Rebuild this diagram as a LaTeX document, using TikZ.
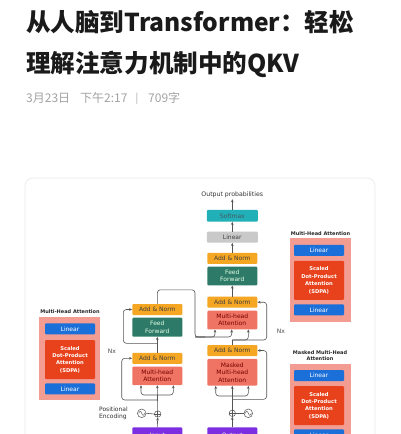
\documentclass[tikz,border=0pt]{standalone}
\usepackage{fontspec}
\setmainfont{DejaVu Sans}
\newfontfamily\cjk{Noto Sans CJK SC}
\usepackage{tikz}
\usetikzlibrary{arrows.meta, positioning, shapes.geometric}
\pgfdeclarelayer{background}
\pgfsetlayers{background,main}

\definecolor{titleblack}{HTML}{1A1A1A}
\definecolor{dategrey}{HTML}{A3A3A3}
\definecolor{cardline}{HTML}{E9E9E9}
\definecolor{addnorm}{HTML}{F5A623}
\definecolor{ffgreen}{HTML}{2D7A68}
\definecolor{mhared}{HTML}{F07463}
\definecolor{smteal}{HTML}{22B0B8}
\definecolor{lingrey}{HTML}{C9C9C9}
\definecolor{iopurple}{HTML}{7B2FE0}
\definecolor{panelpink}{HTML}{F39C92}
\definecolor{funnelpink}{HTML}{FAD3CC}
\definecolor{linblue}{HTML}{1B6FD8}
\definecolor{sdpared}{HTML}{E8421C}
\definecolor{wire}{HTML}{555555}
\definecolor{boxline}{HTML}{BDBDBD}

\begin{document}
\begin{tikzpicture}[x=1pt, y=-1pt,
    blk/.style={rectangle, rounded corners=1pt, inner sep=0pt, minimum width=50pt,
                align=center, font=\fontsize{6}{7.5}\selectfont},
    addn/.style={blk, fill=addnorm, minimum height=11pt, text=black!75},
    ffwd/.style={blk, fill=ffgreen, minimum height=19pt, text=green!10!white},
    mha/.style={blk, fill=mhared, text={red!45!black}},
    io/.style={blk, fill=iopurple, minimum height=18pt, text=white},
    panel/.style={rectangle, fill=panelpink, minimum width=61pt, minimum height=83.4pt, inner sep=0pt},
    plin/.style={blk, fill=linblue, minimum height=11pt, text=white},
    sdpa/.style={blk, fill=sdpared, minimum height=39pt, text=white,
                 font=\bfseries\fontsize{5.2}{7.4}\selectfont},
    ptitle/.style={font=\bfseries\fontsize{5}{6}\selectfont, text=black!85, align=center, inner sep=0pt},
    heading/.style={anchor=base west, inner sep=0pt, text=titleblack,
                    font=\cjk\bfseries\fontsize{24.6}{26}\selectfont},
    meta/.style={anchor=base west, inner sep=0pt, text=dategrey, font=\cjk\fontsize{12}{12}\selectfont},
    stack/.style={draw=boxline, line width=0.5pt},
    knot/.style={circle, draw=wire, line width=0.5pt, inner sep=0pt, fill=white},
    arr/.style={-{Stealth[length=3pt,width=2.6pt]}, wire, line width=0.6pt},
    wr/.style={wire, line width=0.6pt},
    rc/.style={rounded corners=3pt},
]
\useasboundingbox (0,0) rectangle (400,434);
\clip (0,0) rectangle (400,434);
\fill[white] (0,0) rectangle (400,434);

% heading
\node[heading] (title1) at (26,31.4) {从人脑到Transformer：轻松};
\node[heading] (title2) at (26,72.8) {理解注意力机制中的QKV};
\node[meta] (date) at (26,102) {3月23日};
\node[meta] (time) at (80,102) {下午2:17};
\node[meta, text=cardline!70!black, font=\cjk\fontsize{10}{12}\selectfont] (sep) at (135.5,101) {|};
\node[meta] (count) at (148,102) {709字};

% card
\draw[cardline, line width=0.7pt, rounded corners=8pt] (25,178) rectangle (375,480);

% encoder stack
\node[addn] (encAN2) at (157.3,309.5) {Add \& Norm};
\node[ffwd] (encFF) at (157.3,327.2) {Feed\\Forward};
\node[addn] (encAN1) at (157.3,358.3) {Add \& Norm};
\node[mha, minimum height=18.5pt] (encMHA) at (157.3,375.8) {Multi-head\\Attention};
\node[io] (input) at (157.3,436.3) {Input};

% decoder stack
\node[blk, fill=smteal, minimum height=11.7pt, minimum width=51pt, text={cyan!30!black}] (softmax) at (232.3,215.8) {Softmax};
\node[blk, fill=lingrey, minimum height=11pt, minimum width=51pt, text=black!75] (linear) at (232.3,237.2) {Linear};
\node[addn] (decAN3) at (232.3,258.3) {Add \& Norm};
\node[ffwd, minimum height=18.6pt] (decFF) at (232.3,276) {Feed\\Forward};
\node[addn] (decAN2) at (232.3,302.2) {Add \& Norm};
\node[mha, minimum height=18.6pt] (decMHA) at (232.3,320) {Multi-head\\Attention};
\node[addn] (decAN1) at (232.3,350.5) {Add \& Norm};
\node[mha, minimum height=26.7pt] (decMMHA) at (232.3,372.3) {Masked\\Multi-head\\Attention};
\node[io] (output) at (232.3,436.3) {Output};
\node[font=\fontsize{6.2}{7}\selectfont, text=black!80, inner sep=1pt] (outprob) at (232.3,195) {Output probabilities};

% attention panels
\node[panel] (lPanel) at (69.65,358.7) {};
\node[panel] (rtPanel) at (320,280) {};
\node[panel] (rbPanel) at (320,405.7) {};

\begin{pgfonlayer}{background}
  \fill[funnelpink, opacity=0.85] (lPanel.north east) -- (encMHA.north west) -- (encMHA.south west) -- (lPanel.south east) -- cycle;
  \fill[funnelpink, opacity=0.85] (rtPanel.north west) -- (decMHA.north east) -- (decMHA.south east) -- (rtPanel.south west) -- cycle;
  \fill[funnelpink, opacity=0.85] (rbPanel.north west) -- (decMMHA.north east) -- (decMMHA.south east) -- (rbPanel.south west) -- cycle;
  % stack frames
  \draw[stack] (119.3,296.7) rectangle (190,402.7);
  \draw[stack] (201,249.3) rectangle (273.7,402.7);
\end{pgfonlayer}
\node[font=\fontsize{6}{7}\selectfont, text=black!70] (encN) at (112,351) {Nx};
\node[font=\fontsize{6}{7}\selectfont, text=black!70] (decN) at (281,331) {Nx};

% panel contents
\node[ptitle] (lTitle) at (70,311.7) {Multi-Head Attention};
\node[plin] (lLin1) at (70,328.8) {Linear};
\node[sdpa] (lSdpa) at (70,359.5) {Scaled\\Dot-Product\\Attention\\(SDPA)};
\node[plin] (lLin2) at (70,388.8) {Linear};

\node[ptitle] (rtTitle) at (320.5,233.3) {Multi-Head Attention};
\node[plin] (rtLin1) at (319,250.3) {Linear};
\node[sdpa] (rtSdpa) at (319,280.3) {Scaled\\Dot-Product\\Attention\\(SDPA)};
\node[plin] (rtLin2) at (319,309.8) {Linear};

\node[ptitle] (rbTitle) at (320,355.3) {Masked Multi-Head\\Attention};
\node[plin] (rbLin1) at (319,375.5) {Linear};
\node[sdpa] (rbSdpa) at (319,405.5) {Scaled\\Dot-Product\\Attention\\(SDPA)};
\node[plin] (rbLin2) at (319,434.8) {Linear};

% positional encoding
\node[knot, minimum size=6.4pt] (encPlus) at (157.7,414) {};
\node[knot, minimum size=8.6pt] (encSin) at (141.7,413.3) {};
\node[knot, minimum size=6.4pt] (decPlus) at (232.3,413.3) {};
\node[knot, minimum size=8.6pt] (decSin) at (248.3,413.3) {};
\foreach \k in {encPlus, decPlus} {
  \draw[wr, line width=0.45pt] (\k.north) -- (\k.south) (\k.west) -- (\k.east);
}
\foreach \k in {encSin, decSin} {
  \draw[wr, line width=0.45pt] ([xshift=-3pt]\k.center) sin ++(1.5,-2) cos ++(1.5,2) sin ++(1.5,2) cos ++(1.5,-2);
}
\node[anchor=east, align=left, inner sep=0pt, font=\fontsize{6}{7}\selectfont, text=black!80]
    (posenc) at (128,413.5) {Positional\\Encoding};

% encoder wiring
\coordinate (encSplit) at (157.7,395);
\coordinate (encRes1) at (157.7,400);
\coordinate (encRes2) at (157.3,343.3);
\coordinate (encBend) at (195,337);
\draw[arr] (input.north) -- (encPlus.south);
\draw[wr] (encSin.east) -- (encPlus.west);
\draw[arr] (encPlus.north) -- (encMHA.south);
\draw[arr, rc] (encSplit) -| ([xshift=-16.3pt]encMHA.south);
\draw[arr, rc] (encSplit) -| ([xshift=16pt]encMHA.south);
\draw[arr, rc] (encRes1) -- ++(-36,0) |- (encAN1.west);
\draw[arr] (encAN1.north) -- (encFF.south);
\draw[arr, rc] (encRes2) -- ++(-34,0) |- (encAN2.west);
\draw[wr, rc] (encAN2.north) -- ++(0,-14) -| (encBend) -- ++(10,0);
\draw[arr, rc] (encBend) -| ([xshift=-17.3pt]decMHA.south);
\draw[arr, rc] (encBend) -| ([xshift=-0.6pt]decMHA.south);

% decoder wiring
\coordinate (decSplit) at (232.3,396);
\coordinate (decRes1) at (232.3,399.3);
\coordinate (decQ) at (232.3,340);
\draw[arr] (output.north) -- (decPlus.south);
\draw[wr] (decSin.west) -- (decPlus.east);
\draw[arr] (decPlus.north) -- (decMMHA.south);
\draw[arr, rc] (decSplit) -| ([xshift=-16.6pt]decMMHA.south);
\draw[arr, rc] (decSplit) -| ([xshift=16pt]decMMHA.south);
\draw[arr, rc] (decRes1) -- ++(34.4,0) |- (decAN1.east);
\draw[wr] (decAN1.north) -- (decQ);
\draw[arr, rc] (decQ) -| ([xshift=16pt]decMHA.south);
\draw[arr, rc] (decQ) -- ++(34.4,0) |- (decAN2.east);
\draw[arr] (decAN2.north) -- (decFF.south);
\draw[arr] (decAN3.north) -- (linear.south);
\draw[arr] (linear.north) -- (softmax.south);
\draw[arr] (softmax.north) -- (outprob.south);
\end{tikzpicture}
\end{document}
